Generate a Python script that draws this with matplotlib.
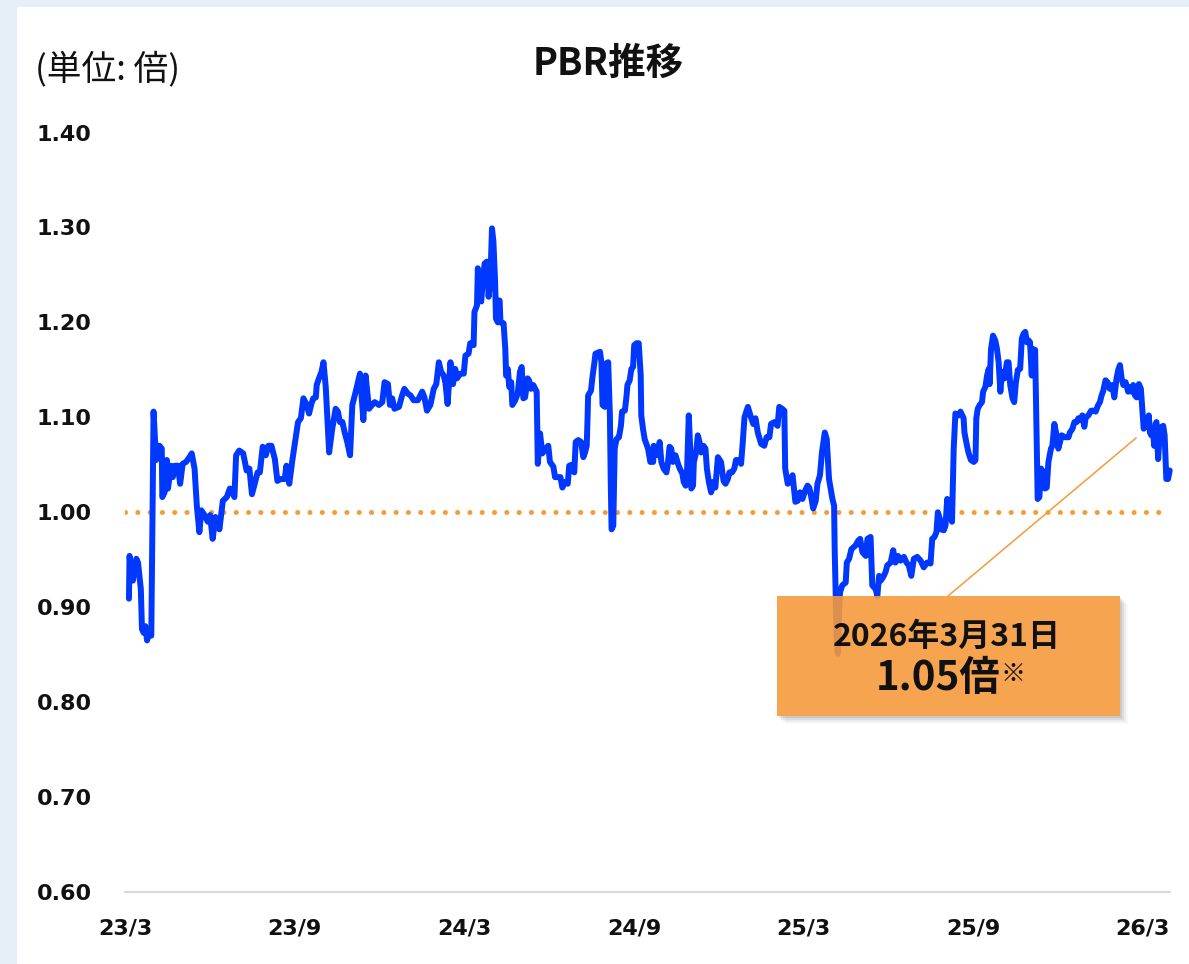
import matplotlib.pyplot as plt
from matplotlib.patches import Rectangle, Polygon

# months since 2023/3 and PBR (times)
months = [
    0.14, 0.16, 0.28, 0.40, 0.46, 0.56, 0.60, 0.66, 0.72, 0.78,
    0.87, 0.93, 1.01, 1.10, 1.16, 1.22, 1.30, 1.32, 1.40, 1.48,
    1.52, 1.63, 1.69, 1.77, 1.87, 1.95, 2.04, 2.16, 2.28, 2.36,
    2.46, 2.54, 2.63, 2.70, 2.81, 2.93, 3.01, 3.10, 3.20, 3.34,
    3.46, 3.60, 3.71, 3.87, 3.93, 4.04, 4.18, 4.30, 4.40, 4.49,
    4.57, 4.69, 4.77, 4.87, 4.98, 5.07, 5.18, 5.30, 5.39, 5.51,
    5.65, 5.71, 5.81, 5.92, 6.02, 6.12, 6.22, 6.31, 6.43, 6.51,
    6.59, 6.66, 6.75, 6.78, 6.86, 6.95, 7.02, 7.10, 7.22, 7.33,
    7.45, 7.53, 7.60, 7.69, 7.77, 7.86, 7.96, 8.04, 8.16, 8.31,
    8.43, 8.51, 8.63, 8.74, 8.83, 8.98, 9.10, 9.18, 9.30, 9.37,
    9.45, 9.53, 9.69, 9.80, 9.88, 10.00, 10.10, 10.21, 10.36, 10.51,
    10.59, 10.68, 10.80, 10.92, 11.01, 11.10, 11.18, 11.27, 11.33, 11.41,
    11.51, 11.60, 11.68, 11.74, 11.86, 11.98, 12.04, 12.15, 12.21, 12.33,
    12.36, 12.45, 12.48, 12.53, 12.60, 12.65, 12.72, 12.80, 12.86, 12.92,
    12.98, 13.03, 13.09, 13.12, 13.19, 13.21, 13.25, 13.28, 13.39, 13.45,
    13.48, 13.54, 13.59, 13.66, 13.70, 13.80, 13.89, 13.97, 14.03, 14.09,
    14.15, 14.24, 14.29, 14.36, 14.44, 14.56, 14.60, 14.68, 14.76, 14.88,
    14.97, 15.03, 15.15, 15.21, 15.30, 15.40, 15.47, 15.56, 15.66, 15.71,
    15.80, 15.89, 15.94, 16.03, 16.13, 16.21, 16.27, 16.33, 16.36, 16.38,
    16.48, 16.54, 16.60, 16.64, 16.80, 16.85, 16.89, 16.97, 17.03, 17.09,
    17.15, 17.18, 17.21, 17.27, 17.32, 17.38, 17.47, 17.54, 17.58, 17.68,
    17.74, 17.77, 17.85, 17.91, 17.97, 18.01, 18.09, 18.17, 18.24, 18.26,
    18.32, 18.38, 18.44, 18.50, 18.58, 18.68, 18.70, 18.79, 18.85, 18.91,
    18.97, 19.05, 19.15, 19.20, 19.26, 19.32, 19.38, 19.47, 19.56, 19.62,
    19.71, 19.76, 19.83, 19.87, 19.94, 19.99, 20.03, 20.09, 20.12, 20.20,
    20.26, 20.32, 20.38, 20.46, 20.53, 20.58, 20.65, 20.73, 20.81, 20.88,
    20.97, 21.08, 21.17, 21.24, 21.32, 21.38, 21.47, 21.55, 21.61, 21.71,
    21.79, 21.85, 21.91, 22.03, 22.14, 22.22, 22.30, 22.38, 22.50, 22.61,
    22.69, 22.79, 22.85, 22.97, 23.08, 23.14, 23.24, 23.32, 23.35, 23.44,
    23.52, 23.61, 23.71, 23.79, 23.87, 23.96, 24.06, 24.14, 24.20, 24.26,
    24.34, 24.43, 24.49, 24.58, 24.65, 24.75, 24.82, 24.90, 25.02, 25.08,
    25.10, 25.17, 25.21, 25.25, 25.29, 25.37, 25.49, 25.53, 25.61, 25.69,
    25.76, 25.84, 25.93, 26.00, 26.08, 26.20, 26.26, 26.37, 26.43, 26.55,
    26.61, 26.67, 26.73, 26.82, 26.90, 26.96, 27.08, 27.17, 27.25, 27.34,
    27.43, 27.55, 27.64, 27.72, 27.81, 27.90, 28.02, 28.14, 28.25, 28.37,
    28.49, 28.55, 28.63, 28.70, 28.75, 28.82, 28.86, 28.96, 29.02, 29.08,
    29.14, 29.19, 29.25, 29.31, 29.37, 29.49, 29.55, 29.66, 29.69, 29.78,
    29.84, 29.92, 30.02, 30.08, 30.11, 30.16, 30.23, 30.31, 30.35, 30.43,
    30.49, 30.55, 30.58, 30.63, 30.70, 30.78, 30.84, 30.90, 30.96, 31.02,
    31.11, 31.19, 31.25, 31.31, 31.39, 31.45, 31.51, 31.58, 31.66, 31.72,
    31.78, 31.84, 31.90, 31.96, 32.01, 32.07, 32.10, 32.19, 32.25, 32.28,
    32.34, 32.40, 32.48, 32.54, 32.60, 32.66, 32.75, 32.80, 32.87, 32.95,
    33.01, 33.07, 33.13, 33.25, 33.37, 33.42, 33.51, 33.58, 33.66, 33.72,
    33.78, 33.86, 33.93, 33.98, 34.07, 34.17, 34.25, 34.33, 34.42, 34.48,
    34.54, 34.60, 34.68, 34.75, 34.83, 34.92, 34.99, 35.07, 35.13, 35.19,
    35.25, 35.31, 35.39, 35.48, 35.54, 35.60, 35.66, 35.72, 35.78, 35.86,
    35.93, 35.98, 36.03, 36.09, 36.16, 36.21, 36.25, 36.30, 36.36, 36.40,
    36.45, 36.48, 36.54, 36.60, 36.66, 36.72, 36.77, 36.83, 36.89, 36.95,
]
pbr = [
    0.909, 0.954, 0.928, 0.951, 0.947, 0.919, 0.877, 0.873, 0.880, 0.865,
    0.875, 0.870, 1.106, 1.055, 1.060, 1.070, 1.067, 1.016, 1.021, 1.055,
    1.025, 1.049, 1.037, 1.049, 1.049, 1.030, 1.051, 1.053, 1.058, 1.062,
    1.046, 1.007, 0.979, 1.002, 0.997, 0.990, 0.997, 0.972, 0.995, 0.982,
    1.012, 1.016, 1.025, 1.016, 1.060, 1.065, 1.062, 1.044, 1.046, 1.019,
    1.028, 1.042, 1.042, 1.069, 1.060, 1.070, 1.070, 1.056, 1.033, 1.035,
    1.035, 1.049, 1.030, 1.055, 1.075, 1.095, 1.099, 1.120, 1.113, 1.104,
    1.114, 1.120, 1.121, 1.134, 1.141, 1.148, 1.158, 1.132, 1.063, 1.088,
    1.109, 1.106, 1.095, 1.095, 1.084, 1.074, 1.060, 1.113, 1.127, 1.146,
    1.097, 1.144, 1.109, 1.113, 1.116, 1.113, 1.116, 1.137, 1.135, 1.113,
    1.120, 1.109, 1.111, 1.123, 1.130, 1.125, 1.123, 1.118, 1.118, 1.127,
    1.121, 1.107, 1.113, 1.130, 1.135, 1.158, 1.148, 1.144, 1.137, 1.114,
    1.158, 1.135, 1.151, 1.141, 1.146, 1.146, 1.165, 1.167, 1.178, 1.176,
    1.211, 1.218, 1.257, 1.225, 1.222, 1.243, 1.262, 1.264, 1.227, 1.243,
    1.299, 1.285, 1.243, 1.204, 1.200, 1.223, 1.223, 1.200, 1.199, 1.172,
    1.144, 1.151, 1.132, 1.137, 1.113, 1.118, 1.125, 1.148, 1.153, 1.120,
    1.121, 1.141, 1.139, 1.130, 1.134, 1.127, 1.051, 1.083, 1.062, 1.067,
    1.070, 1.053, 1.048, 1.037, 1.037, 1.037, 1.026, 1.032, 1.030, 1.049,
    1.050, 1.042, 1.074, 1.076, 1.074, 1.058, 1.063, 1.070, 1.099, 1.123,
    1.128, 1.144, 1.157, 1.167, 1.169, 1.158, 1.113, 1.111, 1.157, 1.158,
    1.102, 1.032, 0.982, 0.986, 1.067, 1.077, 1.079, 1.091, 1.106, 1.107,
    1.123, 1.134, 1.139, 1.151, 1.153, 1.176, 1.178, 1.178, 1.144, 1.102,
    1.088, 1.077, 1.072, 1.067, 1.053, 1.053, 1.070, 1.067, 1.060, 1.074,
    1.053, 1.046, 1.042, 1.051, 1.069, 1.067, 1.053, 1.060, 1.051, 1.046,
    1.041, 1.032, 1.028, 1.035, 1.102, 1.067, 1.025, 1.028, 1.053, 1.063,
    1.081, 1.074, 1.063, 1.070, 1.067, 1.046, 1.032, 1.021, 1.032, 1.026,
    1.058, 1.053, 1.033, 1.030, 1.035, 1.042, 1.042, 1.046, 1.055, 1.055,
    1.051, 1.074, 1.100, 1.111, 1.100, 1.093, 1.099, 1.084, 1.072, 1.070,
    1.079, 1.079, 1.093, 1.095, 1.091, 1.111, 1.109, 1.107, 1.046, 1.030,
    1.032, 1.039, 1.011, 1.012, 1.021, 1.014, 1.023, 1.028, 1.026, 1.018,
    1.004, 1.012, 1.030, 1.039, 1.063, 1.084, 1.077, 1.035, 1.014, 1.007,
    0.961, 0.870, 0.851, 0.890, 0.916, 0.923, 0.926, 0.947, 0.951, 0.961,
    0.963, 0.965, 0.970, 0.972, 0.958, 0.954, 0.972, 0.974, 0.923, 0.919,
    0.912, 0.933, 0.928, 0.932, 0.937, 0.944, 0.947, 0.960, 0.947, 0.954,
    0.949, 0.953, 0.947, 0.944, 0.933, 0.951, 0.953, 0.949, 0.942, 0.947,
    0.946, 0.972, 0.974, 0.979, 1.000, 0.993, 0.982, 0.981, 0.986, 1.014,
    1.004, 0.997, 0.990, 1.067, 1.104, 1.102, 1.106, 1.099, 1.084, 1.070,
    1.062, 1.055, 1.053, 1.055, 1.099, 1.109, 1.113, 1.116, 1.127, 1.132,
    1.144, 1.151, 1.135, 1.172, 1.186, 1.181, 1.172, 1.158, 1.127, 1.148,
    1.141, 1.158, 1.158, 1.134, 1.120, 1.116, 1.137, 1.150, 1.151, 1.183,
    1.188, 1.190, 1.179, 1.181, 1.179, 1.144, 1.172, 1.171, 1.067, 1.014,
    1.016, 1.046, 1.042, 1.025, 1.026, 1.053, 1.067, 1.070, 1.093, 1.081,
    1.067, 1.074, 1.081, 1.079, 1.079, 1.084, 1.088, 1.095, 1.095, 1.099,
    1.097, 1.102, 1.090, 1.100, 1.102, 1.107, 1.107, 1.106, 1.113, 1.116,
    1.123, 1.128, 1.139, 1.137, 1.130, 1.134, 1.121, 1.141, 1.150, 1.155,
    1.141, 1.134, 1.137, 1.127, 1.132, 1.127, 1.134, 1.123, 1.121, 1.135,
    1.130, 1.109, 1.088, 1.095, 1.090, 1.102, 1.084, 1.081, 1.088, 1.070,
    1.093, 1.095, 1.056, 1.084, 1.090, 1.091, 1.081, 1.035, 1.035, 1.044,
]

tick_months = [0, 6, 12, 18, 24, 30, 36]
tick_labels = ["23/3", "23/9", "24/3", "24/9", "25/3", "25/9", "26/3"]
y_ticks = [0.60, 0.70, 0.80, 0.90, 1.00, 1.10, 1.20, 1.30, 1.40]
ref_level = 1.00
latest_date = "2026年3月31日"
latest_text = "1.05倍"

BLUE = "#0038FF"
ORANGE = "#F79A3B"

plt.rcParams["font.family"] = ["Noto Sans CJK JP", "DejaVu Sans"]

W, H = 1189, 964
fig = plt.figure(figsize=(W / 100, H / 100), dpi=100)
fig.patch.set_facecolor("#E6EEF8")
fig.add_artist(Rectangle((17 / W, 0), 1, (H - 7) / H, transform=fig.transFigure,
                         facecolor="white", edgecolor="none", zorder=-10))

# axes frame: x 125..1170 px, y 132.5..892 px
ax_l, ax_r, ax_t, ax_b = 125, 1170, 132.5, 892
ax = fig.add_axes([ax_l / W, (H - ax_b) / H, (ax_r - ax_l) / W, (ax_b - ax_t) / H])
ax.set_facecolor("white")


def px(x, y):
    """image pixel -> axes fraction"""
    return (x - ax_l) / (ax_r - ax_l), (ax_b - y) / (ax_b - ax_t)


ax.plot(months, pbr, color=BLUE, lw=4.3, solid_joinstyle="round",
        solid_capstyle="round", clip_on=False, zorder=3)
ax.axhline(ref_level, xmin=0, xmax=0.99, color=ORANGE, lw=3.6,
           linestyle=(0, (0.01, 2.45)), dash_capstyle="round", zorder=2)

ax.set_xlim(0.1, 36.96)
ax.set_ylim(0.6, 1.4)
ax.set_xticks(tick_months)
ax.set_xticklabels(tick_labels)
ax.set_yticks(y_ticks)
ax.set_yticklabels([f"{v:.2f}" for v in y_ticks])
ax.tick_params(axis="both", length=0, labelsize=16)
ax.tick_params(axis="y", pad=24)
ax.tick_params(axis="x", pad=19)
for lbl in ax.get_xticklabels() + ax.get_yticklabels():
    lbl.set_fontweight("bold")
    lbl.set_fontfamily("DejaVu Sans")
    lbl.set_color("#111111")
for side in ["top", "right", "left"]:
    ax.spines[side].set_visible(False)
ax.spines["bottom"].set_color("#D9D9D9")
ax.spines["bottom"].set_linewidth(1.5)

# title and unit
fig.text(608 / W, (H - 63) / H, "PBR推移", ha="center", va="center",
         fontsize=27, fontweight="bold", color="#111111")
fig.text(35 / W, (H - 69) / H, "(単位: 倍)", ha="left", va="center",
         fontsize=25, color="#111111")

# callout box
bx0, by0 = px(777, 716)
bx1, by1 = px(1120, 596)
lx0, ly0 = px(948, 596)
lx1, ly1 = px(1136, 438)
ax.plot([lx0, lx1], [ly0, ly1], transform=ax.transAxes, color=ORANGE,
        lw=1.1, zorder=4, clip_on=False)

for s, a in [(2, 0.14), (4, 0.10), (6, 0.07), (8, 0.04)]:
    pts = [px(1120, 596 + s), px(1120 + s, 596 + s), px(1120 + s, 716 + s),
           px(777 + s, 716 + s), px(777 + s, 716), px(1120, 716)]
    ax.add_patch(Polygon(pts, closed=True, transform=ax.transAxes,
                         facecolor="#555555", edgecolor="none", alpha=a,
                         zorder=4, clip_on=False))
ax.add_patch(Rectangle((bx0, by0), bx1 - bx0, by1 - by0, transform=ax.transAxes,
                       facecolor="#F59A3C", edgecolor="none", alpha=0.9,
                       zorder=5, clip_on=False))

tx, ty = px(947, 637)
ax.text(tx, ty, latest_date, transform=ax.transAxes, ha="center", va="center",
        fontsize=23, fontweight="bold", color="#111111", zorder=6)
tx, ty = px(938, 679)
val = ax.text(tx, ty, latest_text, transform=ax.transAxes, ha="center",
              va="center", fontsize=29, fontweight="bold", color="#111111",
              zorder=6)
ax.annotate("※", xy=(1.0, 0.92), xycoords=val, ha="left", va="top",
            fontsize=18, fontweight="bold", color="#111111", zorder=6)

fig.savefig("out.png", dpi=100, facecolor=fig.get_facecolor())
